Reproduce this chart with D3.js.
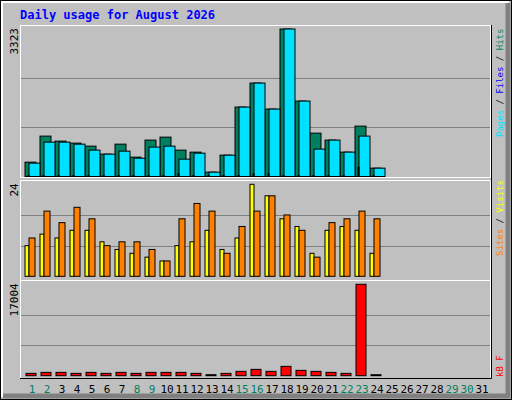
<!DOCTYPE html>
<html>
<head>
<meta charset="utf-8">
<script src="https://cdn.jsdelivr.net/npm/d3@7"></script>
<style>
  body { margin: 0; background: #fff; }
  text { font-family: "DejaVu Sans Mono", monospace; }
</style>
</head>
<body>
<svg id="chart" width="512" height="400"></svg>
<script>
  var days = d3.range(1, 32);
  var weekends = [1, 2, 8, 9, 15, 16, 22, 23, 29, 30];
  var hits  = [323, 910, 797, 752, 684, 504, 729, 436, 820, 887, 594, 549, 98, 481, 1564, 2105, 1519, 3323, 1699, 977, 820, 549, 1135, 188];
  var files = [301, 774, 774, 729, 594, 504, 571, 413, 662, 684, 391, 526, 98, 481, 1564, 2105, 1519, 3323, 1699, 617, 820, 549, 910, 188];
  var pages = [10, 12, 10, 10, 10, 8, 10, 8, 10, 10, 60, 10, 4, 8, 20, 60, 60, 20, 15, 15, 12, 10, 210, 8];
  var visits = [8, 11, 10, 12, 12, 9, 7, 6, 5, 4, 8, 9, 12, 7, 10, 24, 21, 15, 13, 6, 12, 13, 12, 6];
  var sites  = [10, 17, 14, 18, 15, 8, 9, 9, 7, 4, 15, 19, 17, 6, 13, 17, 21, 16, 12, 5, 14, 15, 17, 15];
  var kbytes = [434, 620, 620, 434, 620, 434, 620, 434, 620, 620, 620, 434, 60, 434, 807, 1179, 807, 1738, 993, 807, 620, 434, 17004, 60];

  var svg = d3.select('#chart');

  // frame
  svg.append('rect').attr('x', 0.5).attr('y', 0.5).attr('width', 511).attr('height', 399)
      .attr('fill', '#c0c0c0').attr('stroke', '#000');
  svg.append('path').attr('d', 'M2,397V2H509').attr('fill', 'none').attr('stroke', '#fff').attr('stroke-width', 2);
  svg.append('path').attr('d', 'M3,396H508V3').attr('fill', 'none').attr('stroke', '#808080').attr('stroke-width', 5);

  svg.append('text').attr('x', 20).attr('y', 19).attr('fill', '#0000ff')
      .attr('font-size', 12).attr('font-weight', 'bold').text('Daily usage for August 2026');

  var x = d3.scaleBand().domain(days).range([23.5, 488.5]);

  var panels = [
    { top: 25, bottom: 177, y: d3.scaleLinear().domain([0, 3323]).range([176.5, 29]), max: 3323 },
    { top: 180, bottom: 280, y: d3.scaleLinear().domain([0, 24]).range([276.3, 184.3]), max: 24 },
    { top: 280, bottom: 378, y: d3.scaleLinear().domain([0, 17004]).range([375.7, 284.3]), max: 17004 }
  ];

  panels.forEach(function(p) {
    svg.append('rect').attr('x', 20.5).attr('y', p.top + 0.5).attr('width', 470).attr('height', p.bottom - p.top)
        .attr('fill', '#c0c0c0').attr('stroke', '#fff');
    [p.max / 3, 2 * p.max / 3].forEach(function(v) {
      svg.append('line').attr('x1', 21).attr('x2', 490)
          .attr('y1', Math.round(p.y(v)) + 0.5).attr('y2', Math.round(p.y(v)) + 0.5)
          .attr('stroke', '#808080');
    });
    svg.append('text').attr('transform', 'translate(18,' + (p.y(p.max) - 1) + ') rotate(-90)')
        .attr('text-anchor', 'end').attr('font-size', 11).attr('fill', '#000').text(p.max);
  });
  svg.append('path').attr('d', 'M491.5,25V378.5H20').attr('fill', 'none').attr('stroke', '#000');

  function bars(data, p, off, w, color) {
    svg.append('g').selectAll('rect').data(data).enter().append('rect')
        .attr('x', function(d, i) { return x(i + 1) + off; })
        .attr('y', function(d) { return Math.min(p.y(d), p.y(0) - 1); })
        .attr('width', w)
        .attr('height', function(d) { return Math.max(p.y(0) - p.y(d), 1); })
        .attr('fill', color).attr('stroke', '#000');
  }

  bars(hits, panels[0], 1.5, 11, '#008060');
  bars(files, panels[0], 5.5, 11, '#00e0ff');
  bars(pages, panels[0], 4.5, 1, '#0000ff');
  bars(visits, panels[1], 1.5, 4, '#ffff00');
  bars(sites, panels[1], 5.5, 6, '#ff8000');
  bars(kbytes, panels[2], 2.5, 10, '#ff0000');

  svg.append('g').selectAll('text').data(days).enter().append('text')
      .attr('x', function(d) { return x(d) + x.bandwidth() / 2 + 1; })
      .attr('y', 393).attr('text-anchor', 'middle').attr('font-size', 11)
      .attr('fill', function(d) { return weekends.indexOf(d) >= 0 ? '#008060' : '#000'; })
      .text(function(d) { return d; });

  function legend(y, parts) {
    var t = svg.append('text').attr('transform', 'translate(503,' + y + ') rotate(-90)')
        .attr('font-size', 9);
    parts.forEach(function(pt) { t.append('tspan').attr('fill', pt[1]).text(pt[0]); });
  }
  legend(137, [['Pages', '#00e0ff'], [' / ', '#000'], ['Files', '#0000ff'], [' / ', '#000'], ['Hits', '#008060']]);
  legend(256, [['Sites', '#ff8000'], [' / ', '#000'], ['Visits', '#ffff00']]);
  legend(377, [['kB F', '#ff0000']]);
</script>
</body>
</html>
